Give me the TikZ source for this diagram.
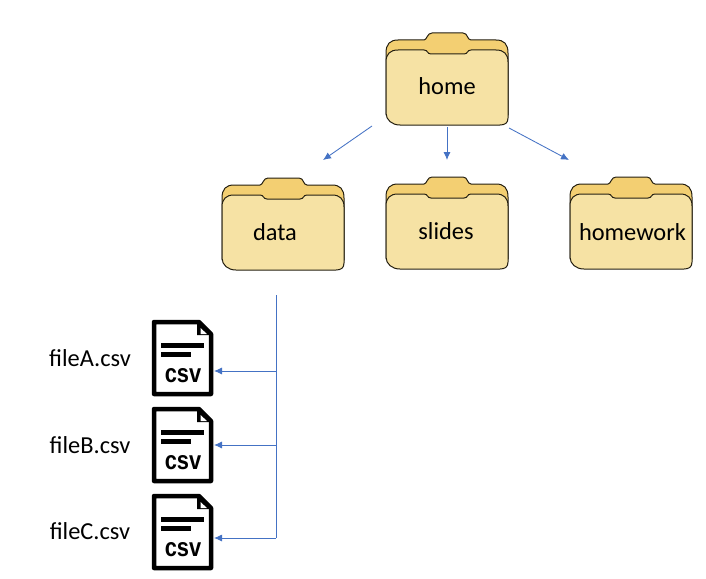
\documentclass[tikz,border=0pt]{standalone}
\usepackage{fontspec}
\usetikzlibrary{arrows.meta}
\setmainfont{Carlito}
\newfontfamily\csvfont{Liberation Sans}
\definecolor{folderback}{HTML}{F3CF72}
\definecolor{folderfront}{HTML}{F6E2A4}
\definecolor{arrowblue}{HTML}{4472C4}
\tikzset{
  x=1pt,y=-1pt,
  labeltext/.style={font=\fontsize{24.4}{28}\selectfont,text=black,inner sep=0pt},
  arrowline/.style={draw=arrowblue,line width=0.85pt,-{Latex[length=8pt,width=7pt]}},
  plainline/.style={draw=arrowblue,line width=0.85pt},
  folderline/.style={draw=black!85!folderback,line width=1pt,line join=round},
  pics/folder/.style={code={
    \path[folderline,fill=folderback]
      (0,25) -- (0,20) .. controls (0,11) and (4,7) .. (12,7)
      -- (38,7) .. controls (41,7) and (41,0) .. (46,0)
      -- (77,0) .. controls (82,0) and (81,7) .. (85,7)
      -- (110,7) .. controls (118,7) and (122,11) .. (122,20)
      -- (122,82) -- (0,82) -- cycle;
    \path[folderline,fill=folderfront]
      (0,29) .. controls (0,21) and (4,17) .. (12,17)
      -- (38,17) .. controls (42,17) and (41,21) .. (45,21)
      -- (78,21) .. controls (82,21) and (81,17) .. (85,17)
      -- (110,17) .. controls (118,17) and (122,21) .. (122,29)
      -- (122,85) .. controls (122,90) and (119,92) .. (114,92)
      -- (14,92) .. controls (6,92) and (0,87) .. (0,80) -- cycle;
  }},
  pics/csvfile/.style={code={
    \path[draw=black,line width=4.5pt,fill=white,line join=round]
      (2,2) -- (47,2) -- (59,14) -- (59,74) -- (2,74) -- cycle;
    \path[fill=black] (45,1) -- (60,15) -- (45,15) -- cycle;
    \path[fill=white] (48.5,8) -- (55,14) -- (48.5,14) -- cycle;
    \path[fill=black] (9,23) rectangle (52,27.5);
    \path[fill=black] (9,32) rectangle (39,36.5);
    \node[inner sep=0pt,text=black,font=\csvfont\bfseries\fontsize{26}{28}\selectfont] at (31,56) {\scalebox{.84}[1]{csv}};
  }}
}
\begin{document}
\begin{tikzpicture}
\useasboundingbox (0,0) rectangle (706,578);
% folders
\pic at (386,33) {folder};
\pic at (222,178) {folder};
\pic at (386,177) {folder};
\pic at (570,177) {folder};
\node[labeltext] (home) at (447,86) {home};
\node[labeltext] (data) at (275,232) {data};
\node[labeltext] (slides) at (446,231) {slides};
\node[labeltext] (homework) at (632.5,232) {homework};
% files
\pic at (152,320) {csvfile};
\pic at (152,407) {csvfile};
\pic at (152,494) {csvfile};
\node[labeltext] (fileA) at (90,358) {fileA.csv};
\node[labeltext] (fileB) at (90,445) {fileB.csv};
\node[labeltext] (fileC) at (90,531) {fileC.csv};
% connector ends
\coordinate (hd) at (372,126);
\coordinate (dh) at (323,160);
\coordinate (hs) at (447,127);
\coordinate (sh) at (447,160);
\coordinate (hw) at (509,128);
\coordinate (wh) at (569,160);
\coordinate (trunktop) at (276,295);
\coordinate (ja) at (276,371);
\coordinate (jb) at (276,445);
\coordinate (jc) at (276,538);
\coordinate (ea) at (214,371);
\coordinate (eb) at (214,445);
\coordinate (ec) at (214,538);
\draw[arrowline] (hd) -- (dh);
\draw[arrowline] (hs) -- (sh);
\draw[arrowline] (hw) -- (wh);
\draw[plainline] (trunktop) -- (jc);
\draw[arrowline] (ja) -- (ea);
\draw[arrowline] (jb) -- (eb);
\draw[arrowline] (jc) -- (ec);
\end{tikzpicture}
\end{document}
